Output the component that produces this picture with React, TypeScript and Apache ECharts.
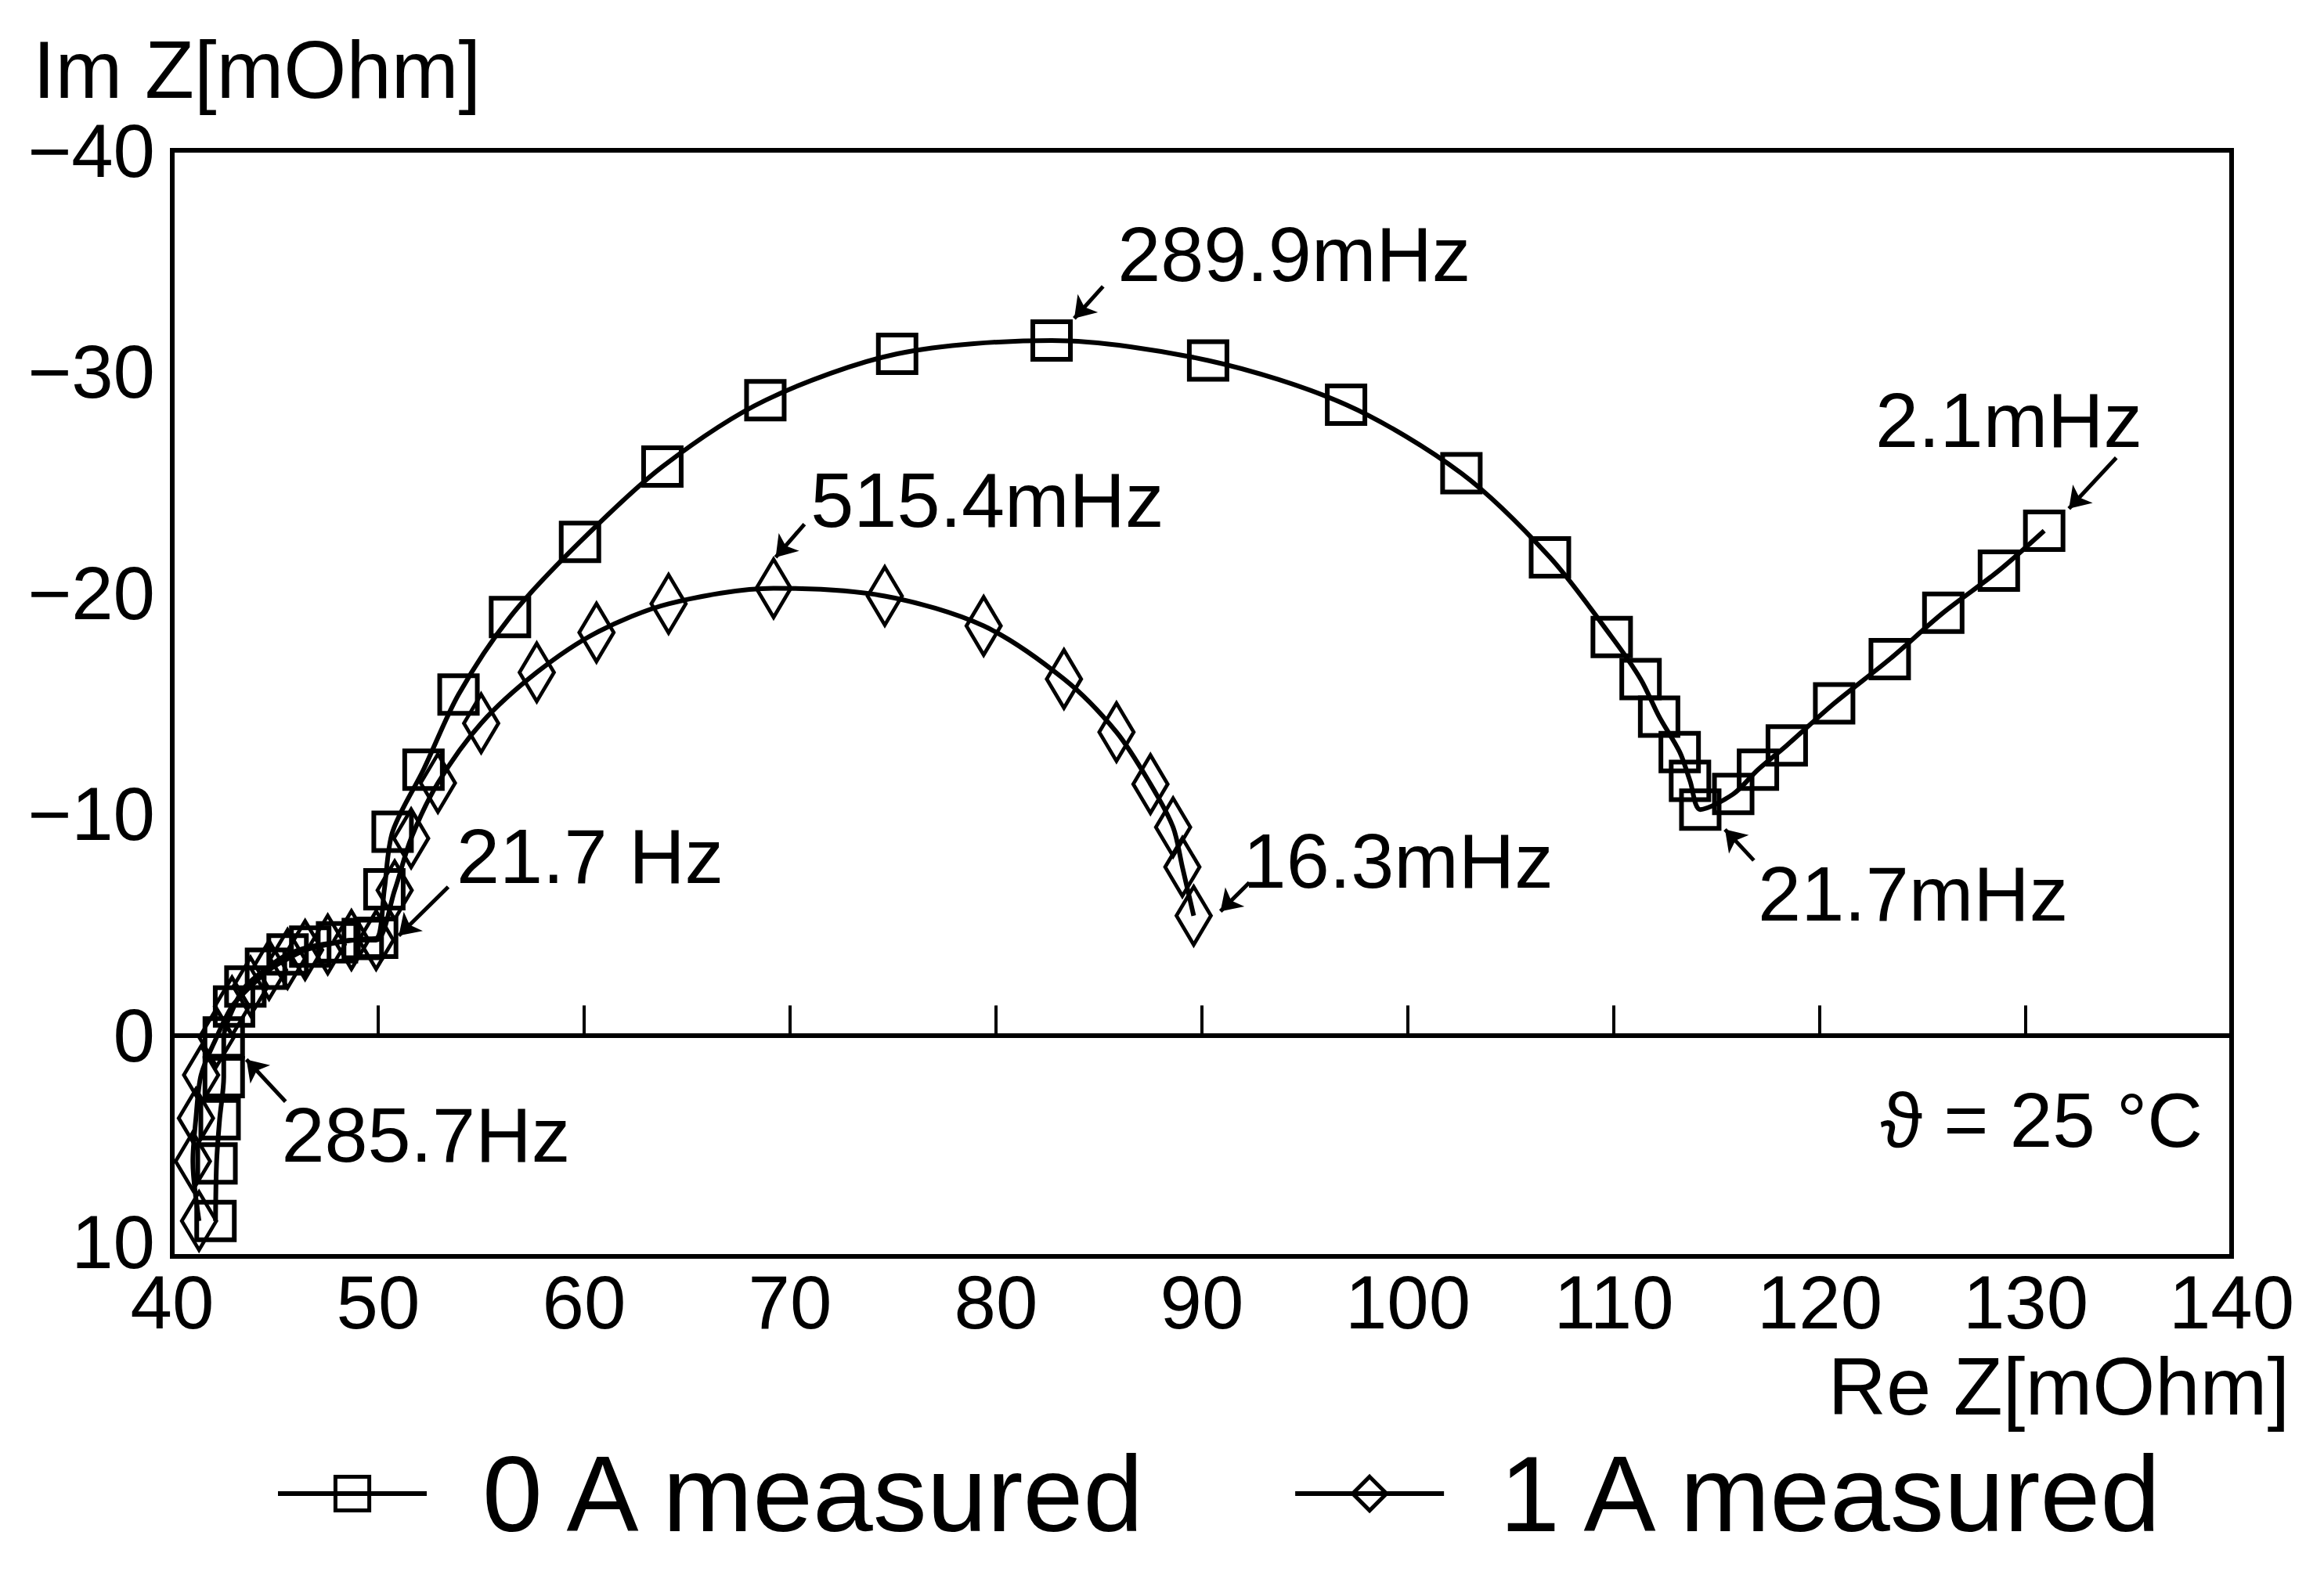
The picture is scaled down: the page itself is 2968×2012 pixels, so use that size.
import React, { useEffect, useRef } from "react";
import * as echarts from "echarts";

const seriesNames = ["0 A measured", "1 A measured"];

// Nyquist points [Re Z, Im Z] in mOhm, ordered from high to low frequency
const zeroAmp: number[][] = [
  [42.1, 8.4], [42.15, 5.8], [42.3, 3.8], [42.5, 1.9], [42.5, 0.1],
  [43.0, -1.3], [43.55, -2.2], [44.55, -3.0], [45.6, -3.65], [46.7, -4.0],
  [48.0, -4.2], [49.25, -4.35], [49.95, -4.4], [50.3, -6.6], [50.7, -9.2],
  [52.2, -12.0], [53.9, -15.4], [56.4, -18.9], [59.8, -22.3], [63.8, -25.7],
  [68.8, -28.7], [75.2, -30.8], [82.7, -31.4], [90.3, -30.5], [97.0, -28.5],
  [102.6, -25.4], [106.9, -21.6], [109.9, -18.0], [111.3, -16.1], [112.2, -14.4],
  [113.2, -12.8], [113.7, -11.5], [114.2, -10.2], [115.8, -10.9], [117.0, -12.0],
  [118.4, -13.1], [120.7, -15.0], [123.4, -17.0], [126.0, -19.1], [128.7, -21.0],
  [130.9, -22.8],
];

const oneAmp: number[][] = [
  [41.3, 8.4], [41.0, 5.7], [41.15, 3.75], [41.4, 1.8], [42.15, 0.1],
  [42.9, -1.3], [43.8, -2.2], [44.7, -2.95], [45.6, -3.45], [46.45, -3.85],
  [47.55, -4.1], [48.7, -4.3], [49.9, -4.3], [50.8, -6.55], [51.6, -8.9],
  [52.9, -11.4], [55.0, -14.1], [57.7, -16.4], [60.6, -18.2], [64.1, -19.5],
  [69.2, -20.2], [74.6, -19.85], [79.4, -18.5], [83.3, -16.1], [85.85, -13.7],
  [87.5, -11.35], [88.6, -9.4], [89.05, -7.6], [89.6, -5.4],
];

// x axis: Re Z, y axis: Im Z (inverted)
const xRange = [40, 140];
const yRange = [-40, 10];
const tickStep = 10;

// frequency annotations: label, label anchor, arrow start, arrow tip (data coords)
const annotationLabels = ["289.9mHz", "515.4mHz", "2.1mHz", "21.7mHz", "16.3mHz", "21.7 Hz", "285.7Hz"];
const annotationAnchors = [[85.9, -35.3], [71.0, -24.2], [122.7, -27.8], [117.0, -6.4], [92.0, -7.9], [53.8, -8.1], [45.3, 4.5]];
const arrowFrom = [[85.2, -33.85], [70.7, -23.1], [134.4, -26.1], [116.8, -7.9], [92.3, -6.9], [53.4, -6.7], [45.5, 3.0]];
const arrowTo = [[83.8, -32.4], [69.3, -21.6], [132.1, -23.8], [115.4, -9.3], [90.9, -5.6], [51.0, -4.5], [43.6, 1.1]];

const axisNameY = "Im Z[mOhm]";
const axisNameX = "Re Z[mOhm]";
const tempNote = "ϑ = 25 °C";

const FONT = "'Liberation Sans', Arial, sans-serif";

const fmtY = (v: number) => {
  const s = v < 0 ? "\u2212" + Math.abs(v) : String(v);
  return v === yRange[1] ? "{up|" + s + "}" : s;
};

export default function App() {
  const ref = useRef<HTMLDivElement>(null);
  useEffect(() => {
    document.body.style.margin = "0";
    if (!ref.current) return;
    const chart = echarts.init(ref.current, undefined, { renderer: "svg" });
    const black = "#000";
    const option: any = {
      animation: false,
      backgroundColor: "#fff",
      grid: {
        left: 220,
        right: 118,
        top: 192,
        bottom: 407,
        show: true,
        borderColor: black,
        borderWidth: 6,
        backgroundColor: "transparent",
      },
      xAxis: [
        {
          type: "value",
          min: xRange[0],
          max: xRange[1],
          interval: tickStep,
          position: "bottom",
          axisLine: { show: true, onZero: false, lineStyle: { color: black, width: 6 } },
          axisTick: { show: false },
          splitLine: { show: false },
          axisLabel: { fontSize: 96, fontFamily: FONT, color: black, margin: 10 },
        },
        {
          type: "value",
          min: xRange[0],
          max: xRange[1],
          interval: tickStep,
          position: "bottom",
          axisLine: { show: true, onZero: true, lineStyle: { color: black, width: 6 } },
          axisTick: { show: true, inside: true, length: 38, lineStyle: { color: black, width: 4 } },
          splitLine: { show: false },
          axisLabel: { show: false },
        },
      ],
      yAxis: {
        type: "value",
        min: yRange[0],
        max: yRange[1],
        interval: tickStep,
        inverse: true,
        axisLine: { show: true, onZero: false, lineStyle: { color: black, width: 6 } },
        axisTick: { show: false },
        splitLine: { show: false },
        axisLabel: {
          fontSize: 96,
          fontFamily: FONT,
          color: black,
          margin: 22,
          formatter: fmtY,
          rich: { up: { fontSize: 96, fontFamily: FONT, color: black, padding: [0, 0, 38, 0] } },
        },
      },
      legend: {
        data: seriesNames,
        left: 347,
        top: 1834,
        itemWidth: 190,
        itemHeight: 54,
        itemGap: 176,
        lineStyle: { width: 6, color: black },
        itemStyle: { borderWidth: 5, borderColor: black, color: "rgba(255,255,255,0)" },
        textStyle: { fontSize: 138, fontFamily: FONT, color: black, padding: [0, 0, 0, 66] },
      },
      series: [
        {
          name: seriesNames[0],
          type: "line",
          xAxisIndex: 0,
          data: zeroAmp,
          smooth: 0.3,
          symbol: "rect",
          symbolSize: 48,
          lineStyle: { color: black, width: 6 },
          itemStyle: { color: "rgba(255,255,255,0)", borderColor: black, borderWidth: 6 },
          z: 3,
          markLine: {
            silent: true,
            symbol: ["none", "arrow"],
            symbolSize: 26,
            label: { show: false },
            lineStyle: { color: black, width: 5, type: "solid" },
            emphasis: { disabled: true },
            data: arrowFrom.map((f, i) => [{ coord: f }, { coord: arrowTo[i] }]),
          },
          markPoint: {
            silent: true,
            symbol: "circle",
            symbolSize: 0,
            itemStyle: { color: "rgba(0,0,0,0)" },
            label: {
              show: true,
              position: "right",
              distance: 0,
              fontSize: 99,
              fontFamily: FONT,
              color: black,
              formatter: (p: any) => p.name,
            },
            data: annotationLabels.map((name, i) => ({ name, coord: annotationAnchors[i] })),
          },
        },
        {
          name: seriesNames[1],
          type: "line",
          xAxisIndex: 0,
          data: oneAmp,
          smooth: 0.3,
          symbol: "diamond",
          symbolSize: [44, 74],
          lineStyle: { color: black, width: 6 },
          itemStyle: { color: "rgba(255,255,255,0)", borderColor: black, borderWidth: 5 },
          z: 3,
        },
      ],
      graphic: [
        {
          type: "text",
          left: 42,
          top: 38,
          style: { text: axisNameY, fontSize: 103, fontFamily: FONT, fill: black },
        },
        {
          type: "text",
          right: 2968 - 2924,
          top: 1720,
          style: { text: axisNameX, fontSize: 103, fontFamily: FONT, fill: black },
        },
        {
          type: "text",
          right: 2968 - 2813,
          top: 1382,
          style: { text: tempNote, fontSize: 98, fontFamily: FONT, fill: black },
        },
      ],
    };
    chart.setOption(option);
    return () => chart.dispose();
  }, []);
  return <div ref={ref} style={{ width: 2968, height: 2012 }} />;
}
